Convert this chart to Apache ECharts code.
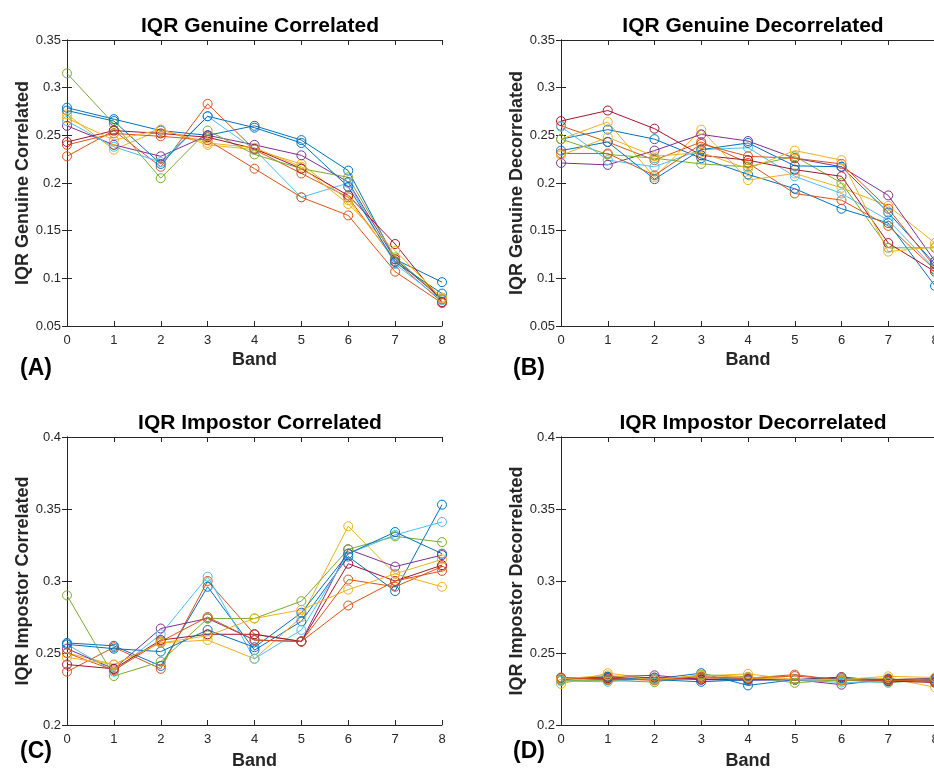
<!DOCTYPE html>
<html>
<head>
<meta charset="utf-8">
<script src="https://cdn.jsdelivr.net/npm/echarts@6/dist/echarts.min.js"></script>
<style>html,body{margin:0;padding:0;background:#fff}#c{width:934px;height:775px}</style>
</head>
<body>
<div id="c"></div>
<script>
const bands = [0, 1, 2, 3, 4, 5, 6, 7, 8];
const lineColors = ['#0072BD','#D95319','#EDB120','#7E2F8E','#77AC30','#4DBEEE','#A2142F','#0072BD','#D95319','#EDB120'];

const genCorr = [
  [0.279, 0.267, 0.255, 0.250, 0.260, 0.245, 0.213, 0.120, 0.096],
  [0.228, 0.255, 0.217, 0.283, 0.235, 0.210, 0.185, 0.118, 0.075],
  [0.272, 0.235, 0.256, 0.240, 0.235, 0.220, 0.182, 0.120, 0.080],
  [0.260, 0.240, 0.228, 0.250, 0.240, 0.229, 0.201, 0.120, 0.078],
  [0.315, 0.262, 0.205, 0.255, 0.230, 0.215, 0.206, 0.122, 0.078],
  [0.265, 0.238, 0.222, 0.270, 0.235, 0.185, 0.200, 0.115, 0.077],
  [0.243, 0.255, 0.252, 0.248, 0.236, 0.215, 0.187, 0.136, 0.075],
  [0.276, 0.265, 0.220, 0.270, 0.258, 0.242, 0.196, 0.117, 0.084],
  [0.240, 0.252, 0.249, 0.245, 0.215, 0.185, 0.166, 0.107, 0.074],
  [0.268, 0.245, 0.256, 0.242, 0.237, 0.217, 0.178, 0.129, 0.079]
];
const genDecorr = [
  [0.246, 0.256, 0.246, 0.226, 0.209, 0.194, 0.173, 0.158, 0.092],
  [0.260, 0.243, 0.224, 0.243, 0.221, 0.189, 0.182, 0.155, 0.109],
  [0.246, 0.264, 0.206, 0.256, 0.203, 0.210, 0.195, 0.176, 0.137],
  [0.221, 0.219, 0.234, 0.251, 0.244, 0.226, 0.217, 0.187, 0.118],
  [0.246, 0.230, 0.226, 0.220, 0.217, 0.228, 0.200, 0.132, 0.132],
  [0.259, 0.224, 0.217, 0.235, 0.237, 0.207, 0.189, 0.161, 0.110],
  [0.265, 0.276, 0.257, 0.229, 0.224, 0.214, 0.207, 0.137, 0.107],
  [0.234, 0.243, 0.204, 0.235, 0.242, 0.218, 0.217, 0.169, 0.115],
  [0.231, 0.231, 0.208, 0.241, 0.228, 0.226, 0.220, 0.173, 0.112],
  [0.229, 0.248, 0.228, 0.232, 0.215, 0.234, 0.224, 0.128, 0.133]
];
const impCorr = [
  [0.257, 0.255, 0.241, 0.296, 0.252, 0.272, 0.317, 0.293, 0.353],
  [0.237, 0.254, 0.239, 0.300, 0.263, 0.258, 0.301, 0.296, 0.310],
  [0.250, 0.242, 0.257, 0.259, 0.246, 0.275, 0.338, 0.305, 0.296],
  [0.253, 0.239, 0.267, 0.274, 0.259, 0.258, 0.322, 0.310, 0.318],
  [0.290, 0.234, 0.244, 0.274, 0.274, 0.286, 0.322, 0.331, 0.327],
  [0.256, 0.237, 0.263, 0.303, 0.246, 0.266, 0.319, 0.332, 0.341],
  [0.242, 0.239, 0.259, 0.263, 0.263, 0.258, 0.312, 0.300, 0.311],
  [0.256, 0.253, 0.251, 0.266, 0.254, 0.278, 0.319, 0.334, 0.319],
  [0.250, 0.238, 0.258, 0.275, 0.259, 0.258, 0.283, 0.300, 0.307],
  [0.247, 0.242, 0.257, 0.262, 0.274, 0.280, 0.294, 0.305, 0.315]
];
const impDecorr = [
  [0.2325, 0.2315, 0.2320, 0.2360, 0.2275, 0.2315, 0.2310, 0.2305, 0.2310],
  [0.2320, 0.2325, 0.2310, 0.2325, 0.2325, 0.2350, 0.2310, 0.2315, 0.2325],
  [0.2285, 0.2360, 0.2320, 0.2340, 0.2355, 0.2315, 0.2305, 0.2325, 0.2263],
  [0.2315, 0.2335, 0.2345, 0.2315, 0.2310, 0.2315, 0.2280, 0.2320, 0.2300],
  [0.2310, 0.2310, 0.2298, 0.2350, 0.2335, 0.2293, 0.2315, 0.2293, 0.2320],
  [0.2305, 0.2300, 0.2325, 0.2335, 0.2315, 0.2315, 0.2295, 0.2300, 0.2305],
  [0.2325, 0.2325, 0.2330, 0.2315, 0.2320, 0.2315, 0.2333, 0.2305, 0.2295],
  [0.2325, 0.2335, 0.2315, 0.2300, 0.2315, 0.2315, 0.2325, 0.2315, 0.2320],
  [0.2330, 0.2315, 0.2315, 0.2335, 0.2325, 0.2340, 0.2315, 0.2310, 0.2305],
  [0.2320, 0.2345, 0.2315, 0.2345, 0.2330, 0.2315, 0.2315, 0.2338, 0.2330]
];

const panelTitles = ['IQR Genuine Correlated', 'IQR Genuine Decorrelated', 'IQR Impostor Correlated', 'IQR Impostor Decorrelated'];
const panelTags = ['(A)', '(B)', '(C)', '(D)'];
const xName = 'Band';
const yRanges = [[0.05, 0.35], [0.05, 0.35], [0.2, 0.4], [0.2, 0.4]];
const panelData = [genCorr, genDecorr, impCorr, impDecorr];

const FONT = '"Liberation Sans", Arial, Helvetica, sans-serif';
const AX = '#262626';
const gridsPos = [
  {left: 67, top: 40, width: 375, height: 286},
  {left: 561, top: 40, width: 374, height: 286},
  {left: 67, top: 437, width: 375, height: 288},
  {left: 561, top: 437, width: 374, height: 288}
];
const tagTops = [357, 357, 740, 740];
const bandGaps = [25, 25, 27, 27];

const grid = [], xAxis = [], yAxis = [], series = [], title = [], graphicEls = [];
gridsPos.forEach((g, i) => {
  grid.push(Object.assign({containLabel: false, outerBoundsMode: 'none'}, g));
  const axLine = {show: true, lineStyle: {color: AX, width: 1}};
  const tick = {show: true, inside: true, length: 5, lineStyle: {color: AX}};
  xAxis.push({
    gridIndex: i, type: 'value', min: 0, max: 8, interval: 1, position: 'bottom',
    axisLine: axLine, axisTick: tick, splitLine: {show: false},
    axisLabel: {color: AX, fontSize: 13, fontFamily: FONT, margin: 8},
    name: xName, nameLocation: 'middle', nameGap: bandGaps[i],
    nameTextStyle: {fontWeight: 'bold', fontSize: 18, color: AX, fontFamily: FONT}
  });
  xAxis.push({
    gridIndex: i, type: 'value', min: 0, max: 8, interval: 1, position: 'top',
    axisLine: axLine, axisTick: tick, splitLine: {show: false}, axisLabel: {show: false}
  });
  yAxis.push({
    gridIndex: i, type: 'value', min: yRanges[i][0], max: yRanges[i][1], interval: 0.05, position: 'left',
    axisLine: axLine, axisTick: tick, splitLine: {show: false},
    axisLabel: {color: AX, fontSize: 13, fontFamily: FONT, margin: 6},
    name: panelTitles[i], nameLocation: 'middle', nameGap: 35,
    nameTextStyle: {fontWeight: 'bold', fontSize: 18, color: AX, fontFamily: FONT}
  });
  yAxis.push({
    gridIndex: i, type: 'value', min: yRanges[i][0], max: yRanges[i][1], interval: 0.05, position: 'right',
    axisLine: axLine, axisTick: tick, splitLine: {show: false}, axisLabel: {show: false}
  });
  title.push({
    text: panelTitles[i], left: (i % 2 === 0 ? 255 : 748), top: g.top - 29,
    textAlign: 'center',
    textStyle: {fontWeight: 'bold', fontSize: 21, color: '#000', fontFamily: FONT}
  });
  graphicEls.push({
    type: 'text', left: (i % 2 === 0 ? 20 : 513), top: tagTops[i],
    style: {text: panelTags[i], font: 'bold 23px ' + FONT, fill: '#000'}
  });
  panelData[i].forEach((vals, k) => {
    const c = lineColors[k];
    series.push({
      type: 'line', xAxisIndex: i * 2, yAxisIndex: i * 2,
      data: bands.map((b, j) => [b, vals[j]]),
      symbol: 'circle', symbolSize: 9, showAllSymbol: true,
      lineStyle: {color: c, width: 1},
      itemStyle: {color: 'rgba(0,0,0,0)', borderColor: c, borderWidth: 1},
      emphasis: {disabled: true}, animation: false, silent: true
    });
  });
});

const chart = echarts.init(document.getElementById('c'), null, {renderer: 'canvas'});
chart.setOption({
  backgroundColor: '#fff', animation: false,
  title: title, grid: grid, xAxis: xAxis, yAxis: yAxis, series: series,
  graphic: graphicEls
});
</script>
</body>
</html>
